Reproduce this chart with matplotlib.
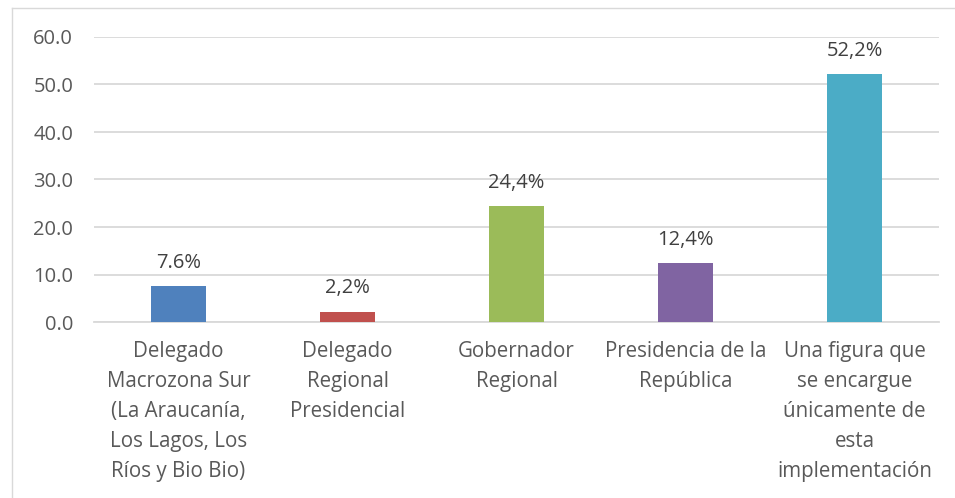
import matplotlib.pyplot as plt
from matplotlib.lines import Line2D

categories = [
    "Delegado\nMacrozona Sur\n(La Araucanía,\nLos Lagos, Los\nRíos y Bio Bio)",
    "Delegado\nRegional\nPresidencial",
    "Gobernador\nRegional",
    "Presidencia de la\nRepública",
    "Una figura que\nse encargue\núnicamente de\nesta\nimplementación",
]
values = [7.6, 2.2, 24.4, 12.4, 52.2]
value_labels = ["7.6%", "2,2%", "24,4%", "12,4%", "52,2%"]
yticks = [0, 10, 20, 30, 40, 50, 60]
colors = ["#4F81BD", "#C0504D", "#9BBB59", "#8064A2", "#4BACC6"]

plt.rcParams['font.family'] = ['Open Sans', 'DejaVu Sans']
text_color = "#595959"

fig = plt.figure(figsize=(9.55, 4.98), dpi=100)
ax = fig.add_axes([94 / 955, 1 - 322 / 498, 845 / 955, 285 / 498])

x = list(range(len(values)))
ax.bar(x, values, width=0.32, color=colors, zorder=3)
for xi, v, lab in zip(x, values, value_labels):
    ax.annotate(lab, (xi, v), xytext=(0, 9.5), textcoords="offset points",
                ha="center", va="bottom", fontsize=14.5, color="#404040")

ax.set_xlim(-0.5, len(values) - 0.5)
ax.set_ylim(0, 60)
ax.set_yticks(yticks)
ax.set_yticklabels([f"{t:.1f}" for t in yticks], fontsize=14.5, color=text_color)
ax.yaxis.grid(True, color="#D9D9D9", linewidth=1.3, zorder=0)
ax.set_xticks(x)
ax.set_xticklabels(categories, fontsize=14.8, color=text_color, linespacing=1.55)
ax.tick_params(axis="both", length=0)
ax.tick_params(axis="y", pad=15)
ax.tick_params(axis="x", pad=14)
for side in ["top", "right", "left"]:
    ax.spines[side].set_visible(False)
ax.spines["bottom"].set_color("#D9D9D9")
ax.spines["bottom"].set_linewidth(1.3)

# outer chart frame (partly visible)
fig.add_artist(Line2D([12 / 955, 12 / 955], [0, 1 - 8 / 498], transform=fig.transFigure,
                      color="#D9D9D9", linewidth=1))
fig.add_artist(Line2D([12 / 955, 1], [1 - 8 / 498, 1 - 8 / 498], transform=fig.transFigure,
                      color="#D9D9D9", linewidth=1))

fig.savefig("out.png", dpi=100)
